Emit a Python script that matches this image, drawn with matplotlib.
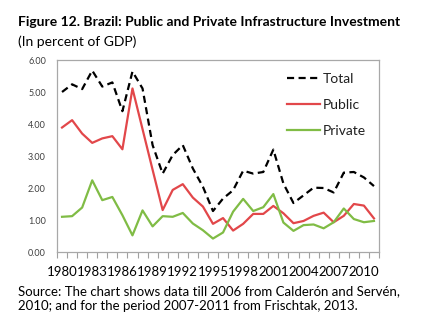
import matplotlib
matplotlib.use("Agg")
import matplotlib.pyplot as plt
import numpy as np

years = list(range(1980, 2012))
total = [5.00, 5.24, 5.09, 5.67, 5.17, 5.30, 4.40, 5.64, 5.11, 3.34, 2.45, 3.03, 3.34, 2.61, 2.04, 1.28,
         1.67, 1.93, 2.54, 2.45, 2.50, 3.20, 2.14, 1.53, 1.77, 2.01, 2.00, 1.86, 2.48, 2.50, 2.33, 2.06]
public = [3.89, 4.12, 3.70, 3.41, 3.55, 3.62, 3.21, 5.11, 3.84, 2.57, 1.31, 1.94, 2.12, 1.70, 1.42, 0.88,
          1.06, 0.67, 0.88, 1.19, 1.19, 1.44, 1.21, 0.90, 0.97, 1.13, 1.23, 0.93, 1.13, 1.50, 1.45, 1.05]
private = [1.10, 1.12, 1.39, 2.24, 1.62, 1.72, 1.15, 0.52, 1.30, 0.80, 1.12, 1.10, 1.22, 0.89, 0.68, 0.42,
           0.61, 1.26, 1.66, 1.28, 1.40, 1.81, 0.92, 0.66, 0.84, 0.86, 0.74, 0.93, 1.36, 1.03, 0.93, 0.97]
yticks = [0, 1, 2, 3, 4, 5, 6]
title = "Figure 12. Brazil: Public and Private Infrastructure Investment"
subtitle = "(In percent of GDP)"
source = ("Source: The chart shows data till 2006 from Calderón and Servén,\n"
          "2010; and for the period 2007-2011 from Frischtak, 2013.")

plt.rcParams['font.family'] = ['Lato', 'DejaVu Sans']

W, H = 425, 334
fig = plt.figure(figsize=(W / 100, H / 100), dpi=100)
ax = fig.add_axes([57 / W, (H - 252) / H, 322 / W, 192 / H])

x = np.arange(len(years))
ax.plot(x, total, color='black', lw=1.6, dashes=(3.2, 2), label='Total')
ax.plot(x, public, color='#E2474A', lw=1.6, label='Public')
ax.plot(x, private, color='#80BC45', lw=1.6, label='Private')

ax.set_xlim(-0.5, len(years) - 0.5)
ax.set_ylim(0, 6)
ax.set_yticks(yticks)
ax.set_yticklabels([f"{v:.2f}" for v in yticks], fontsize=6.5, color='#404040')
ax.tick_params(axis='y', length=0, pad=8)

major = x[::3]
ax.set_xticks(major)
ax.set_xticklabels([str(years[i]) for i in major], fontsize=9.5)
ax.tick_params(axis='x', which='major', length=0, pad=10)
ax.set_xticks(np.arange(-0.5, len(years)), minor=True)
ax.tick_params(axis='x', which='minor', length=4, direction='out', color='#a0a0a0', width=0.8)

for s in ax.spines.values():
    s.set_color('#a8a8a8')
    s.set_linewidth(0.9)

leg = ax.legend(loc='upper right', bbox_to_anchor=(1.0, 1.0), frameon=False, fontsize=10,
                handlelength=2.4, handletextpad=0.2, labelspacing=1.0, borderaxespad=0.55)
for t in leg.get_texts():
    t.set_color('#202020')

fig.text(18 / W, 1 - 22 / H, title, fontsize=10, fontweight='bold', va='center', ha='left')
fig.text(18 / W, 1 - 42 / H, subtitle, fontsize=10, va='center', ha='left')
fig.text(18 / W, 1 - 299 / H, source, fontsize=9.5, va='center', ha='left', linespacing=1.3)

fig.savefig("out.png", dpi=100)
